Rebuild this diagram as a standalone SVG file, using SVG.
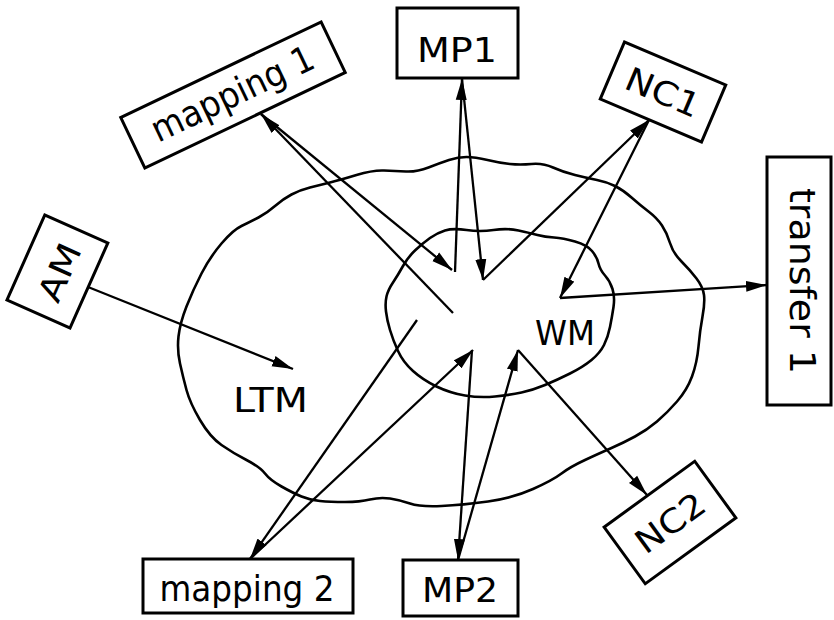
<svg xmlns="http://www.w3.org/2000/svg" width="834" height="620" viewBox="0 0 834 620">
  <style>
    .box { fill: #fff; stroke: #000; stroke-width: 3; stroke-linejoin: miter; }
    .blob { fill: none; stroke: #000; stroke-width: 2.6; stroke-linejoin: round; }
    .lbl { font-family: "DejaVu Sans", "Liberation Sans", sans-serif; font-size: 33px; text-anchor: middle; fill: #000; }
    .lbl.lc { font-size: 36px; }
    .link { fill: none; stroke: #000; stroke-width: 2.3; marker-end: url(#ah); }
  </style>
  <defs>
    <marker id="ah" viewBox="0 0 21 12" refX="21" refY="6" markerWidth="21" markerHeight="12" markerUnits="userSpaceOnUse" orient="auto">
      <path d="M0,0.5 L21,6 L0,11.5 Z" fill="#000"/>
    </marker>
  </defs>

  <rect width="834" height="620" fill="#fff"/>

  <!-- long-term memory region -->
  <g id="ltm">
    <path class="blob" d="M258.5,217.5 Q267,213 275,206 Q283,199 291.5,194.5 Q300,190 310,187.5 Q320,185 330,182.5 Q340,180 356.5,175 Q373,170 384,170.5 Q395,171 406,171.5 Q417,172 428.5,167.5 Q440,163 449,160 Q458,157 466.5,157 Q475,157 487.5,160 Q500,163 510,164 Q520,165 531.5,164 Q543,163 553,167.5 Q563,172 575,175 Q587,178 597,180 Q607,182 615,186 Q623,190 631.5,197.5 Q640,205 648.5,211.5 Q657,218 662,225.5 Q667,233 670,243 Q673,253 681.5,261.5 Q690,270 696.5,278.5 Q703,287 704,295 Q705,303 702.5,316.5 Q700,330 698.5,346.5 Q697,363 692,376.5 Q687,390 677,401.5 Q667,413 657,421.5 Q647,430 635,436.5 Q623,443 611.5,448 Q600,453 585,460 Q570,467 561.5,473.5 Q553,480 533,489 Q513,498 488,501.5 Q463,505 441.5,506 Q420,507 410,503.5 Q400,500 390,498.5 Q380,497 370,499.5 Q360,502 345,502 Q330,502 320,501 Q310,500 301.5,496.5 Q293,493 281.5,486.5 Q270,480 265,473.5 Q260,467 246.5,460 Q233,453 221.5,445 Q210,437 200,420 Q190,403 186.5,390 Q183,377 180,363.5 Q177,350 178.5,336.5 Q180,323 186.5,306.5 Q193,290 201.5,273.5 Q210,257 221.5,243.5 Q233,230 241.5,226 Q250,222 258.5,217.5 Z"/>
    <text class="lbl" x="270.5" y="412" textLength="75" lengthAdjust="spacingAndGlyphs">LTM</text>
  </g>

  <!-- working memory region -->
  <g id="wm">
    <path class="blob" d="M415.5,250 Q423,243 430,238 Q437,233 445,230.5 Q453,228 466.5,230 Q480,232 493.5,230 Q507,228 518.5,230.5 Q530,233 537.5,235 Q545,237 554,237.5 Q563,238 575,241.5 Q587,245 592,251 Q597,257 598.5,263.5 Q600,270 605,275.5 Q610,281 612.5,289 Q615,297 613.5,307 Q612,317 610,327 Q608,337 604,345 Q600,353 591.5,360 Q583,367 570,373.5 Q557,380 545,385 Q533,390 521.5,392.5 Q510,395 495,396.5 Q480,398 465,395.5 Q450,393 436.5,386.5 Q423,380 413,371 Q403,362 398,351 Q393,340 390,330 Q387,320 386,311.5 Q385,303 386.5,296.5 Q388,290 393,282.5 Q398,275 403,266 Q408,257 415.5,250 Z"/>
    <text class="lbl" x="565" y="345" textLength="60" lengthAdjust="spacingAndGlyphs">WM</text>
  </g>

  <!-- arrows between the modules and the memory regions -->
  <g id="connectors">
    <line class="link" x1="453" y1="313" x2="261" y2="114"/>
    <line class="link" x1="261" y1="114" x2="452" y2="270"/>
    <line class="link" x1="455" y1="272" x2="462" y2="79"/>
    <line class="link" x1="462" y1="79" x2="483" y2="280"/>
    <line class="link" x1="483" y1="280" x2="649" y2="120"/>
    <line class="link" x1="649" y1="120" x2="560" y2="298"/>
    <line class="link" x1="560" y1="298" x2="767" y2="285"/>
    <line class="link" x1="88" y1="287" x2="293" y2="369"/>
    <line class="link" x1="417" y1="320" x2="250" y2="559"/>
    <line class="link" x1="250" y1="559" x2="473" y2="350"/>
    <line class="link" x1="472" y1="350" x2="458" y2="560"/>
    <line class="link" x1="458" y1="560" x2="518" y2="350"/>
    <line class="link" x1="518" y1="350" x2="647" y2="495"/>
  </g>

  <g id="mapping1" transform="translate(233,95) rotate(-25.5)">
    <rect class="box" x="-111" y="-28" width="222" height="56"/>
    <text class="lbl lc" x="0" y="11" textLength="176" lengthAdjust="spacingAndGlyphs">mapping 1</text>
  </g>

  <g id="mp1">
    <rect class="box" x="397" y="8" width="121" height="70"/>
    <text class="lbl" x="457" y="62" textLength="80" lengthAdjust="spacingAndGlyphs">MP1</text>
  </g>

  <g id="nc1" transform="translate(663,92) rotate(23)">
    <rect class="box" x="-55" y="-31" width="110" height="62"/>
    <text class="lbl" x="0" y="12" textLength="78" lengthAdjust="spacingAndGlyphs">NC1</text>
  </g>

  <g id="transfer1">
    <rect class="box" x="767" y="157" width="64" height="248"/>
    <text class="lbl lc" transform="translate(790,281) rotate(90)" x="0" y="0" textLength="186" lengthAdjust="spacingAndGlyphs">transfer 1</text>
  </g>

  <g id="am" transform="translate(57.4,271.5) rotate(-66)">
    <rect class="box" x="-46.5" y="-34.5" width="93" height="69"/>
    <text class="lbl" x="0" y="14" textLength="60" lengthAdjust="spacingAndGlyphs">AM</text>
  </g>

  <g id="mapping2">
    <rect class="box" x="143" y="559" width="210" height="54"/>
    <text class="lbl lc" x="247" y="601" textLength="175" lengthAdjust="spacingAndGlyphs">mapping 2</text>
  </g>

  <g id="mp2">
    <rect class="box" x="403" y="560" width="115" height="56"/>
    <text class="lbl" x="460" y="602" textLength="76" lengthAdjust="spacingAndGlyphs">MP2</text>
  </g>

  <g id="nc2" transform="translate(670,522.5) rotate(-36)">
    <rect class="box" x="-56" y="-35" width="112" height="70"/>
    <text class="lbl" x="0" y="12" textLength="78" lengthAdjust="spacingAndGlyphs">NC2</text>
  </g>
</svg>
